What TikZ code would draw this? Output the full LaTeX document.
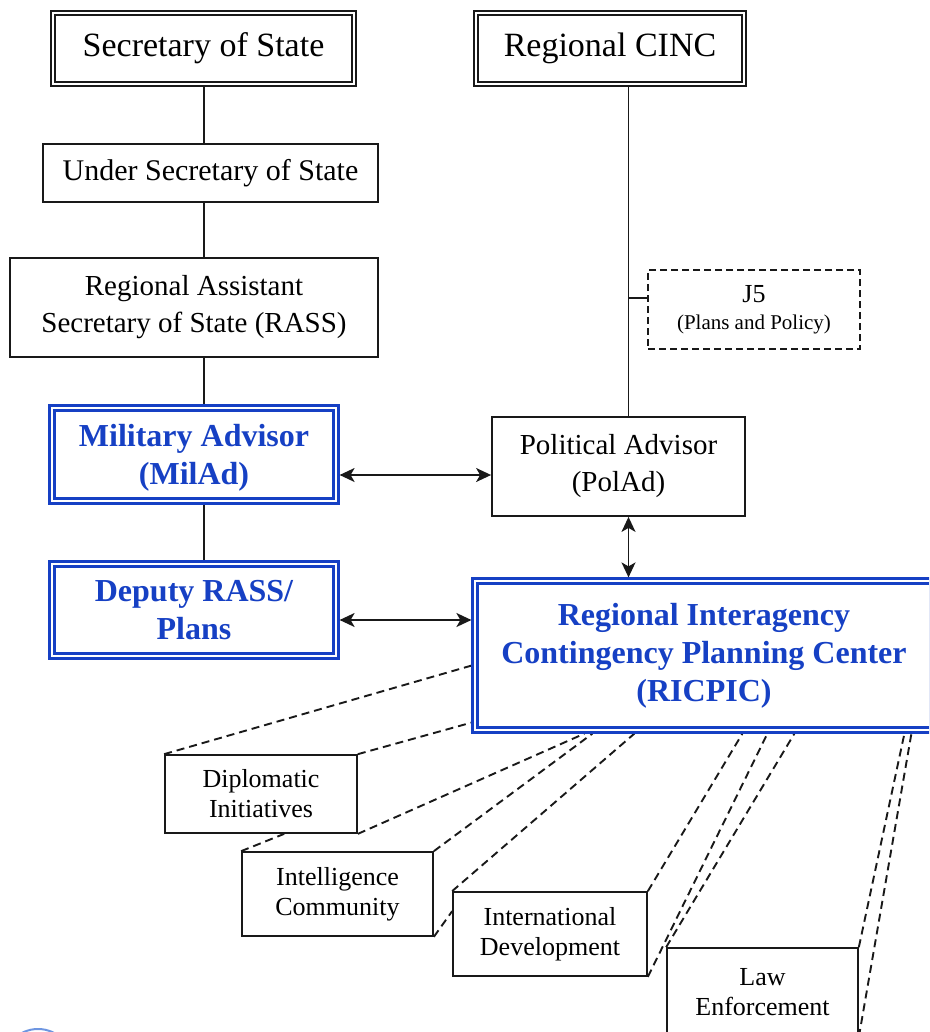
\documentclass[tikz,border=0pt]{standalone}
\usepackage{fontspec}
\setmainfont{Liberation Serif}
\usetikzlibrary{arrows.meta,calc}
\definecolor{navy}{RGB}{22,64,196}
\definecolor{logoblue}{RGB}{110,150,225}
\definecolor{ink}{RGB}{25,25,25}
\pgfdeclarelayer{bg}
\pgfsetlayers{bg,main}
\begin{document}
\begin{tikzpicture}[x=1pt,y=-1pt,
  box/.style={draw=ink, line width=1.8pt, fill=white, align=center, inner sep=0pt, text=black},
  topbox/.style={box, double, double distance=2.2pt, line width=2pt, outer sep=3.1pt, font=\fontsize{34}{40}\selectfont},
  midbox/.style={box, font=\fontsize{29}{37}\selectfont},
  bluebox/.style={box, draw=navy, double, double distance=2.8pt, line width=2.2pt, outer sep=3.6pt, text=navy, font=\fontsize{32}{38}\selectfont\bfseries},
  lowtext/.style={text depth=-5pt},
  smallbox/.style={box, line width=1.7pt, font=\fontsize{26}{30}\selectfont},
  dashbox/.style={box, dash pattern=on 7pt off 4pt, line width=1.7pt},
  conn/.style={draw=ink, line width=1.7pt},
  biarrow/.style={conn, {Stealth[length=15pt,width=14pt,inset=4pt]}-{Stealth[length=15pt,width=14pt,inset=4pt]}},
  proj/.style={draw=ink, line width=1.9pt, dash pattern=on 8pt off 5pt},
  logo/.style={draw=logoblue, line width=2pt}
]
\useasboundingbox (0,0) rectangle (929,1032);
\clip (0,0) rectangle (929,1032);

% ---- nodes ----
\node[topbox, minimum width=301pt, minimum height=71pt] (sos) at (203.5,48.5) {Secretary of State};
\node[topbox, minimum width=268pt, minimum height=71pt] (cinc) at (610,48.5) {Regional CINC};
\node[midbox, font=\fontsize{30}{37}\selectfont, minimum width=335pt, minimum height=58pt] (usec) at (210.5,173) {Under Secretary of State};
\node[midbox, minimum width=368pt, minimum height=99pt] (rass) at (194,307.5) {Regional Assistant\\Secretary of State (RASS)};
\node[bluebox, lowtext, minimum width=284pt, minimum height=93pt] (mil) at (194,454.5) {Military Advisor\\(MilAd)};
\node[bluebox, lowtext, minimum width=284pt, minimum height=92pt] (dep) at (194,610) {Deputy RASS/\\Plans};
\node[midbox, minimum width=253pt, minimum height=99pt] (pol) at (618.5,466.5) {Political Advisor\\(PolAd)};
\node[dashbox, font=\fontsize{26}{27}\selectfont, minimum width=212pt, minimum height=79pt] (j5) at (754,309.5)
  {J5\\{\fontsize{21}{25}\selectfont (Plans and Policy)}};
\node[bluebox, minimum width=458pt, minimum height=149pt] (ric) at (704,655.5)
  {Regional Interagency\\Contingency Planning Center\\(RICPIC)};
\node[smallbox, minimum width=192pt, minimum height=78pt] (dip) at (261,794) {Diplomatic\\Initiatives};
\node[smallbox, minimum width=191pt, minimum height=84pt] (intel) at (337.5,894) {Intelligence\\Community};
\node[smallbox, minimum width=194pt, minimum height=84pt] (intl) at (550,934) {International\\Development};
\node[smallbox, minimum width=191pt, minimum height=88pt] (law) at (762.5,992) {Law\\Enforcement};

% ---- helper coordinates ----
\coordinate (lx) at (204,0);
\coordinate (vx) at (628.5,0);
\coordinate (jy) at (0,298);
\coordinate (ay) at (0,475);
\coordinate (dy) at (0,620);
\path (ric.south west) ++(0,-68) coordinate (rL1);
\path (ric.south west) ++(0,-11) coordinate (rL2);
\path (ric.south west) ++(113,0) coordinate (rb1);
\path (ric.south west) ++(121,0) coordinate (rb2);
\path (ric.south west) ++(163,0) coordinate (rb3);
\path (ric.south west) ++(271,0) coordinate (rb4);
\path (ric.south west) ++(296,0) coordinate (rb5);
\path (ric.south west) ++(323,0) coordinate (rb6);
\path (ric.south west) ++(433,0) coordinate (rb7);
\path (ric.south west) ++(440,0) coordinate (rb8);
\path (dip.south west) ++(120,0) coordinate (dipb);
\path (intl.north west) ++(0,20) coordinate (intlw);

% ---- solid connectors ----
\draw[conn] (lx |- sos.south) -- (lx |- usec.north);
\draw[conn] (lx |- usec.south) -- (lx |- rass.north);
\draw[conn] (lx |- rass.south) -- (lx |- mil.north);
\draw[conn] (lx |- mil.south) -- (lx |- dep.north);
\draw[conn] (vx |- cinc.south) -- (vx |- pol.north);
\draw[conn] (vx |- jy) -- (j5.west |- jy);
\draw[biarrow] (mil.east |- ay) -- (pol.west |- ay);
\draw[biarrow] (dep.east |- dy) -- (ric.west |- dy);
\draw[biarrow] (vx |- pol.south) -- (vx |- ric.north);

% ---- dashed projection lines ----
\begin{pgfonlayer}{bg}
\draw[proj] (dip.north west) -- (rL1);
\draw[proj] (dip.north east) -- (rL2);
\draw[proj] (dip.south east) -- (rb1);
\draw[proj] (intel.north west) -- (dipb);
\draw[proj] (intel.north east) -- (rb2);
\draw[proj] (intel.south east) -- (intlw);
\draw[proj] (intl.north west) -- (rb3);
\draw[proj] (intl.north east) -- (rb4);
\draw[proj] (intl.south east) -- (rb5);
\draw[proj] (law.north west) -- (rb6);
\draw[proj] (law.north east) -- (rb7);
\draw[proj] (law.south east) -- (rb8);
\end{pgfonlayer}

% ---- logo fragment ----
\draw[logo] (38,1064) circle (35pt);
\end{tikzpicture}
\end{document}
